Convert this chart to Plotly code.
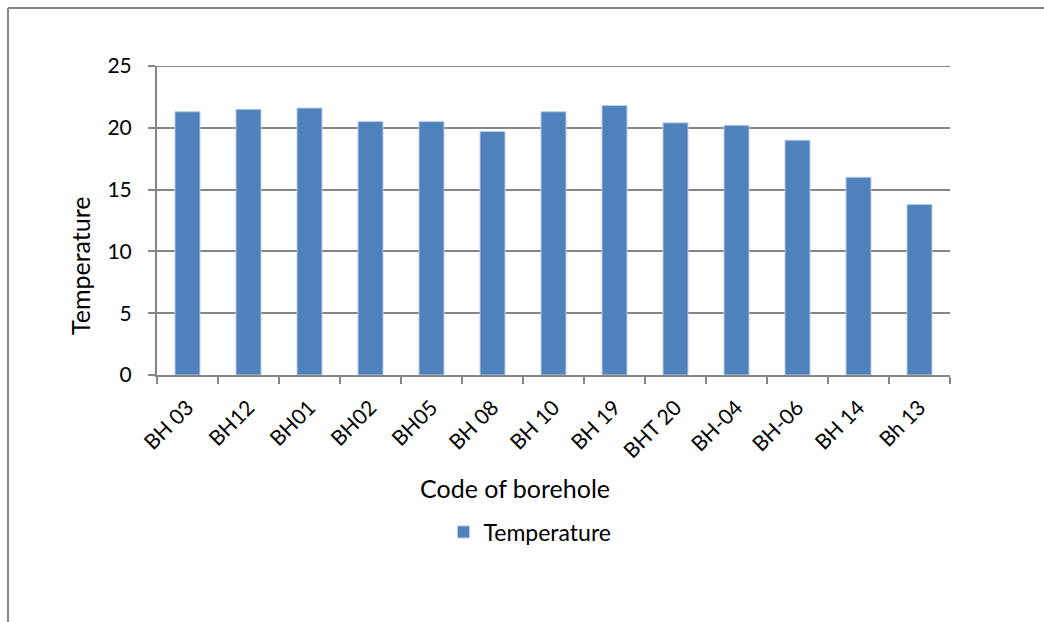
import plotly.graph_objects as go

boreholes = ["BH 03", "BH12", "BH01", "BH02", "BH05", "BH 08", "BH 10",
             "BH 19", "BHT 20", "BH-04", "BH-06", "BH 14", "Bh 13"]
temperature = [21.3, 21.5, 21.6, 20.5, 20.5, 19.7, 21.3, 21.8, 20.4, 20.2, 19.0, 16.0, 13.8]
y_ticks = [0, 5, 10, 15, 20, 25]

W, H = 1044, 622
L, R, T, B = 157, 94, 66, 247
pw, ph = W - L - R, H - T - B


def px_x(x):
    return (x - L) / pw


def px_y(y):
    return (H - B - y) / ph


FONT = "Lato, Calibri, Carlito, sans-serif"
GRID = "#868686"

fig = go.Figure(go.Bar(
    x=boreholes,
    y=temperature,
    name="Temperature",
    marker=dict(color="#4F81BD", line=dict(color="#B9CDE5", width=1)),
    showlegend=True,
))

fig.update_layout(
    width=W, height=H,
    margin=dict(l=L, r=R, t=T, b=B, pad=0),
    paper_bgcolor="white",
    plot_bgcolor="white",
    font=dict(family=FONT, size=21, color="#000000"),
    bargap=0.59,
    showlegend=True,
    legend=dict(orientation="h", x=px_x(530), xanchor="center",
                y=px_y(532), yanchor="middle",
                font=dict(size=23), itemwidth=30),
    xaxis=dict(
        type="category",
        showline=True, linecolor=GRID, linewidth=2,
        ticks="outside", tickson="boundaries", ticklen=7,
        tickcolor=GRID, tickwidth=1.5,
        tickangle=-45, tickfont=dict(size=21),
        ticklabelstandoff=10,
        showgrid=False,
    ),
    yaxis=dict(
        range=[0, 25], tickvals=y_ticks,
        showline=True, linecolor=GRID, linewidth=2,
        ticks="outside", ticklen=7, tickcolor=GRID, tickwidth=1.5,
        ticklabelstandoff=12,
        showgrid=True, gridcolor=GRID, gridwidth=2,
        zeroline=False,
        tickfont=dict(size=21),
    ),
    annotations=[
        dict(text="Code of borehole", xref="paper", yref="paper",
             x=px_x(515), y=px_y(488), xanchor="center", yanchor="middle",
             showarrow=False, font=dict(size=25)),
        dict(text="Temperature", xref="paper", yref="paper",
             x=px_x(80), y=px_y(266), xanchor="center", yanchor="middle",
             textangle=-90, showarrow=False, font=dict(size=25)),
    ],
    shapes=[
        # top gridline at the upper end of the value axis
        dict(type="line", xref="paper", yref="y",
             x0=px_x(150), x1=1, y0=y_ticks[-1], y1=y_ticks[-1],
             line=dict(color=GRID, width=2)),
        # chart frame
        dict(type="line", xref="paper", yref="paper",
             x0=px_x(8), x1=px_x(W + 5), y0=px_y(8), y1=px_y(8),
             line=dict(color=GRID, width=2)),
        dict(type="line", xref="paper", yref="paper",
             x0=px_x(8), x1=px_x(8), y0=px_y(8), y1=px_y(H + 5),
             line=dict(color=GRID, width=2)),
    ],
)

fig.write_html("out.html")
